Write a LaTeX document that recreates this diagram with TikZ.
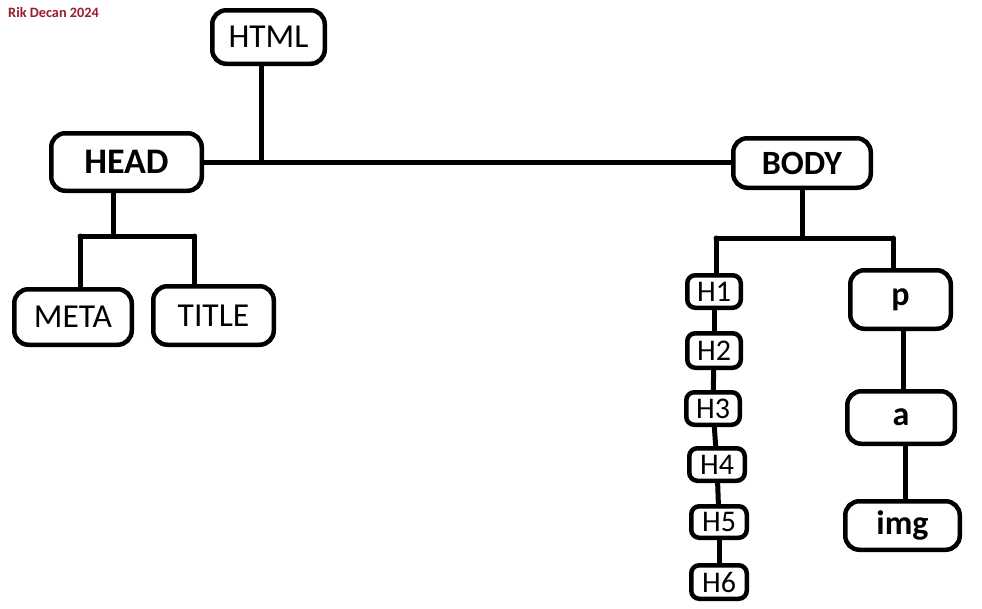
\documentclass[tikz,border=0pt]{standalone}
\usepackage{fontspec}
\setmainfont{Carlito}
\usetikzlibrary{positioning}
\definecolor{signred}{RGB}{155,27,48}
\tikzset{
  tag/.style  ={rectangle, rounded corners=14pt, draw=black, line width=4.5pt, fill=white,
                inner sep=0pt, align=center, font=\fontsize{33.5}{38}\selectfont},
  btag/.style ={tag, font=\fontsize{34}{38}\selectfont\bfseries},
  htag/.style ={tag, rounded corners=8pt, font=\fontsize{30}{34}\selectfont},
  sign/.style ={inner sep=0pt, text=signred, font=\fontsize{14.3}{16}\selectfont\bfseries},
  wire/.style ={line width=5pt, line cap=round, draw=black},
}

\begin{document}
\begin{tikzpicture}[x=1pt, y=-1pt]

\fill[white] (0,0) rectangle (982,608);

\node[sign, anchor=west] (sign) at (8,13) {Rik Decan 2024};

% root and first level
\node[tag,  minimum width=112.5pt, minimum height=53.5pt] (html) at (268.5,37) {HTML};
\node[btag, minimum width=150.5pt, minimum height=57.5pt, font=\fontsize{36}{40}\selectfont\bfseries] (head) at (126.5,162) {HEAD};
\node[btag, minimum width=137.5pt, minimum height=49.5pt] (body) at (802,163) {BODY};

% head children
\node[tag, minimum width=117.5pt, minimum height=55.5pt] (meta)  at (73,317) {META};
\node[tag, minimum width=120.5pt, minimum height=58.5pt] (title) at (213.5,315.5) {TITLE};

% body children: headings
\node[htag, minimum width=53.5pt, minimum height=32.5pt] (h1) at (714,291.5) {H1};
\node[htag, minimum width=53.5pt, minimum height=34.5pt] (h2) at (714,350.5) {H2};
\node[htag, minimum width=53.5pt, minimum height=32.5pt] (h3) at (713,408.5) {H3};
\node[htag, minimum width=55.5pt, minimum height=32.5pt] (h4) at (717,464.5) {H4};
\node[htag, minimum width=55.5pt, minimum height=31.5pt] (h5) at (719,522)   {H5};
\node[htag, minimum width=55.5pt, minimum height=33.5pt] (h6) at (719,582)   {H6};

% body children: p > a > img
\node[btag, minimum width=100.5pt, minimum height=58.5pt] (p)   at (900.5,299.5) {p};
\node[btag, minimum width=107.5pt, minimum height=52.5pt] (a)   at (901,417.5)   {a};
\node[btag, minimum width=114.5pt, minimum height=48.5pt] (img) at (902.5,525.5) {img};

% junctions
\coordinate (rootj) at (261.5,162);
\coordinate (headj) at (113,236);
\coordinate (metaj) at (80,236);
\coordinate (titlej) at (194.5,236);
\coordinate (bodyj) at (802,238);
\coordinate (hj) at (716,238);
\coordinate (pj) at (893,238);

\draw[wire] (head.east) -- (head.east -| body.west);
\draw[wire] (rootj |- html.south) -- (rootj);

\draw[wire] (headj |- head.south) -- (headj);
\draw[wire] (metaj) -- (titlej);
\draw[wire] (metaj) -- (metaj |- meta.north);
\draw[wire] (titlej) -- (titlej |- title.north);

\draw[wire] (bodyj |- body.south) -- (bodyj);
\draw[wire] (hj) -- (pj);
\draw[wire] (hj) -- (hj |- h1.north);
\draw[wire] (pj) -- (pj |- p.north);

\draw[wire] (h1) -- (h2);
\draw[wire] (h2) -- (h3);
\draw[wire] (h3) -- (h4);
\draw[wire] (h4) -- (h5);
\draw[wire] (h5) -- (h6);

\draw[wire] ([xshift=3pt]p.south) -- ([xshift=3pt]p.south |- a.north);
\draw[wire] ([xshift=4pt]a.south) -- ([xshift=4pt]a.south |- img.north);

\end{tikzpicture}
\end{document}
